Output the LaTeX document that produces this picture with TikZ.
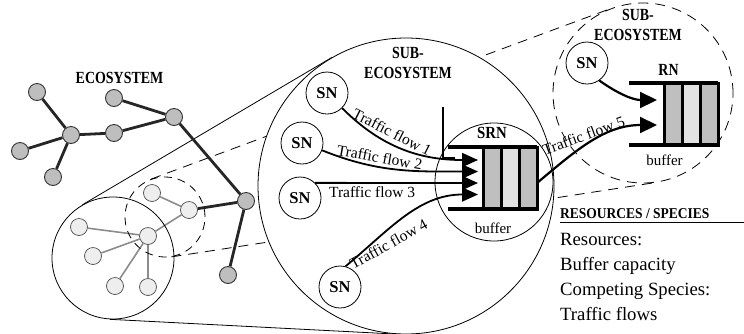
\documentclass[tikz,border=0pt]{standalone}
\usepackage{fontspec}
\setmainfont{Liberation Serif}
\usetikzlibrary{arrows.meta,backgrounds}

\definecolor{nodegray}{HTML}{BEBEBE}
\definecolor{nodelight}{HTML}{EEEEEE}
\definecolor{cellgray}{HTML}{BFBFBF}
\definecolor{celllight}{HTML}{E2E2E2}

% narrow bold caps for the region titles
\newcommand{\narrowcaps}[2][0.82]{\scalebox{#1}[1]{#2}}

\tikzstyle{eco-node}=[circle, draw=black!80, line width=0.9pt, fill=nodegray, minimum size=17pt, inner sep=0pt]
\tikzstyle{sub-node}=[circle, draw=black!70, line width=0.7pt, fill=nodelight, minimum size=17pt, inner sep=0pt]
\tikzstyle{eco-edge}=[line width=2.8pt, black!85]
\tikzstyle{sub-edge}=[line width=1.6pt, black!45]
\tikzstyle{sn-node}=[circle, draw, line width=0.8pt, fill=white, minimum size=42pt, inner sep=0pt, font=\fontsize{16.5}{18}\selectfont\bfseries]
\tikzstyle{region}=[circle, draw, line width=0.8pt, inner sep=0pt]
\tikzstyle{dashed-region}=[circle, draw, line width=0.8pt, inner sep=0pt, dash pattern=on 8pt off 6pt]
\tikzstyle{cone}=[line width=0.8pt]
\tikzstyle{flow}=[line width=1.8pt, -{Triangle[length=16pt,width=14pt]}]
\tikzstyle{flow-label}=[font=\fontsize{15.5}{18}\selectfont, inner sep=3pt]
\tikzstyle{title}=[font=\fontsize{17}{20}\selectfont\bfseries, align=center, inner sep=0pt]
\tikzstyle{rail}=[line width=4pt]
\tikzstyle{cell}=[line width=3pt, draw=black]

\begin{document}
\begin{tikzpicture}[x=1pt, y=1pt]
  \useasboundingbox (0,-333) rectangle (744,0);

  % ecosystem graph
  \node (n1) at (37, -92) [eco-node] {};
  \node (n2) at (71, -135) [eco-node] {};
  \node (n3) at (20, -151) [eco-node] {};
  \node (n4) at (53, -177) [eco-node] {};
  \node (n5) at (114, -133) [eco-node] {};
  \node (n6) at (114, -98) [eco-node] {};
  \node (n7) at (174, -117) [eco-node] {};
  \node (n8) at (246, -201) [eco-node] {};
  \node (n9) at (228, -275) [eco-node] {};
  \foreach \a/\b in {n1/n2, n3/n2, n4/n2, n2/n5, n5/n7, n6/n7, n7/n8, n8/n9}
    \draw[eco-edge] (\a) -- (\b);

  \node (l1) at (189, -210) [sub-node] {};
  \node (l2) at (152, -193) [sub-node] {};
  \node (l3) at (148, -236) [sub-node] {};
  \node (l4) at (79, -227) [sub-node] {};
  \node (l5) at (93, -256) [sub-node] {};
  \node (l6) at (115, -286) [sub-node] {};
  \node (l7) at (148, -287) [sub-node] {};
  \draw[eco-edge] (n8) -- (l1);
  \foreach \a/\b in {l1/l2, l1/l3, l3/l4, l3/l5, l3/l6, l3/l7}
    \draw[sub-edge] (\a) -- (\b);

  \node (ecolabel) at (119.5, -83) [title, anchor=base] {\narrowcaps{ECOSYSTEM}};

  % zoomed regions
  \node (zoomc) at (113, -258) [region, minimum size=122pt] {};
  \node (dashc) at (165, -217) [dashed-region, minimum size=80pt] {};
  \node (subc) at (406, -186) [region, fill=white, minimum size=296pt] {};
  \node (rnc) at (643, -93) [dashed-region, dash pattern=on 10pt off 7pt, minimum size=180pt] {};

  \begin{scope}[on background layer]
    \draw[cone] (zoomc.120.6) -- (subc.120.6);
    \draw[cone] (zoomc.267) -- (subc.267);
    \draw[cone, dash pattern=on 10pt off 7pt] (dashc.110.3) -- (rnc.110.3);
    \draw[cone, dash pattern=on 10pt off 7pt] (dashc.-81.3) -- (rnc.-81.3);
  \end{scope}

  \node (sublabel) at (408, -47) [title, anchor=north] {\narrowcaps{SUB-}\\\narrowcaps{ECOSYSTEM}};
  \node (rnsublabel) at (638, -9) [title, anchor=north] {\narrowcaps{SUB-}\\\narrowcaps{ECOSYSTEM}};

  % sub-ecosystem with the shared buffer
  \node (srnc) at (494, -182) [region, minimum size=118pt] {};
  \node (srnlabel) at (492, -138) [anchor=base, font=\fontsize{17}{20}\selectfont\bfseries] {\narrowcaps[0.87]{SRN}};
  \node (srnbuf) at (493, -233) [anchor=base, font=\fontsize{15}{18}\selectfont] {buffer};
  \foreach \x/\c in {483/cellgray, 501/celllight, 519/cellgray}
    \draw[cell, fill=\c] (\x, -147) rectangle ++(18, -62);
  \draw[rail] (448, -147) -- (537, -147);
  \draw[rail] (448, -209) -- (537, -209);
  \draw[line width=1.1pt] (443, -107) -- (443, -158) -- (455, -158);

  \node (sn1) at (327, -93) [sn-node] {SN};
  \node (sn2) at (302, -143) [sn-node] {SN};
  \node (sn3) at (300, -198) [sn-node] {SN};
  \node (sn4) at (340, -287) [sn-node] {SN};

  \coordinate (t1) at (478, -160);
  \coordinate (t2) at (478, -171.5);
  \coordinate (t3) at (478, -183);
  \coordinate (t4) at (478, -194.5);
  \coordinate (srnout) at (537, -183);

  \draw[flow] (sn1.-45) to[out=-45, in=180]
    node[flow-label, sloped, above, inner sep=4.5pt, pos=0.37] {Traffic flow 1} (t1);
  \draw[flow] (sn2.-20) to[out=-22, in=180]
    node[flow-label, sloped, above, pos=0.36] {Traffic flow 2} (t2);
  \draw[flow] (sn3.45) --
    node[flow-label, sloped, below, pos=0.35] {Traffic flow 3} (t3);
  \draw[flow] (sn4.75) to[out=40, in=180]
    node[flow-label, rotate=29, below, inner sep=5pt, pos=0.3] {Traffic flow 4} (t4);

  % remote sub-ecosystem
  \node (rnsn) at (587, -63) [sn-node] {SN};
  \node (rnlabel) at (668.5, -75) [anchor=base, font=\fontsize{17}{20}\selectfont\bfseries] {\narrowcaps{RN}};
  \node (rnbuf) at (664.5, -165) [anchor=base, font=\fontsize{15}{18}\selectfont] {buffer};
  \foreach \x/\c in {664/cellgray, 682/celllight, 700/cellgray}
    \draw[cell, fill=\c] (\x, -83) rectangle ++(18, -62);
  \draw[rail] (629, -83) -- (718, -83);
  \draw[rail] (629, -145) -- (718, -145);

  \coordinate (r1) at (657, -100);
  \coordinate (r2) at (657, -125);
  \draw[flow, line width=2.2pt, -{Triangle[length=17pt,width=16pt]}] (rnsn.-55) to[out=-35, in=180] (r1);
  \draw[flow, line width=2.2pt, -{Triangle[length=17pt,width=16pt]}] (srnout) to[out=40, in=180]
    node[flow-label, rotate=20, above, pos=0.45] {Traffic flow 5} (r2);

  % resources / species legend
  \node (restitle) at (560, -218) [anchor=base west, inner sep=0pt, font=\fontsize{15}{18}\selectfont\bfseries] {\narrowcaps[0.9]{RESOURCES / SPECIES}};
  \draw[line width=0.9pt] ([yshift=-4pt]restitle.base west) -- ++(184, 0);
  \node (reslist) at (560, -233) [anchor=north west, inner sep=0pt, align=left, font=\fontsize{18.7}{25}\selectfont]
    {Resources:\\Buffer capacity\\Competing Species:\\Traffic flows};
\end{tikzpicture}
\end{document}
